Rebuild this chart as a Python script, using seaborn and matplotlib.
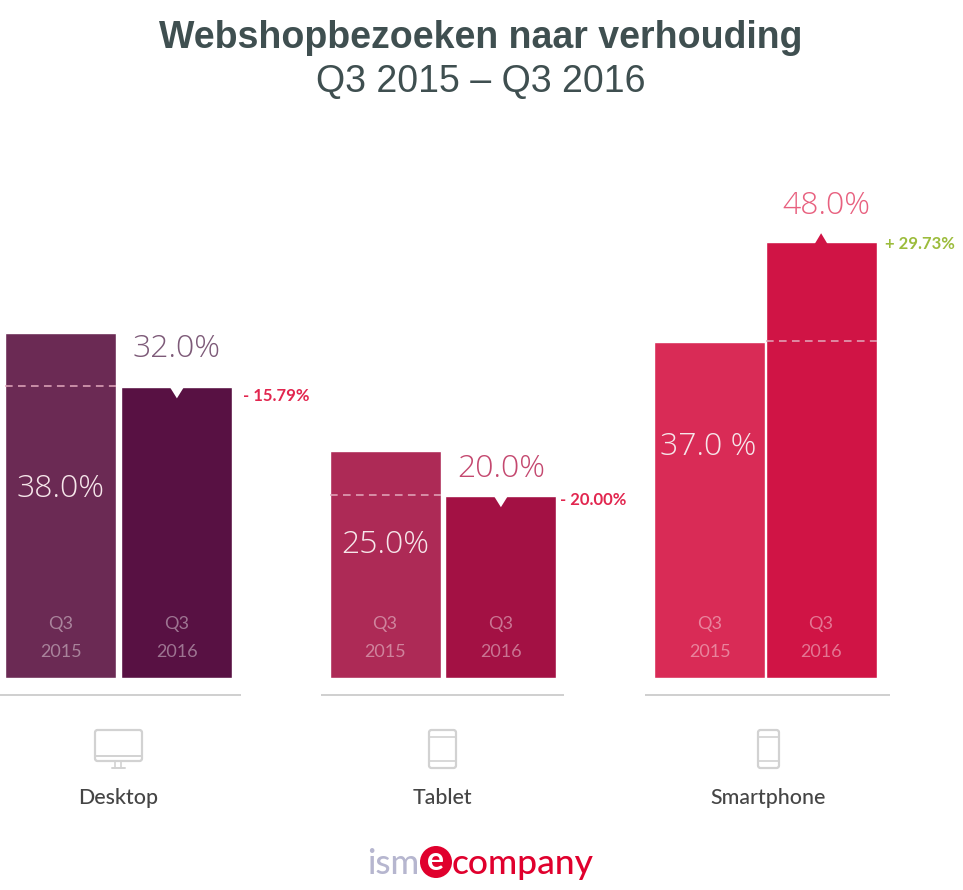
import matplotlib
matplotlib.use("Agg")
import matplotlib.pyplot as plt
from matplotlib.patches import FancyBboxPatch, Circle, Polygon
import pandas as pd
import seaborn as sns

# ---- data ----
periods = ["Q3 2015", "Q3 2016"]
categories = ["Desktop", "Tablet", "Smartphone"]
values_2015 = [38.0, 25.0, 37.0]
values_2016 = [32.0, 20.0, 48.0]
inner_labels = ["38.0%", "25.0%", "37.0 %"]
outer_labels = ["32.0%", "20.0%", "48.0%"]
change_labels = ["- 15.79%", "- 20.00%", "+ 29.73%"]

# ---- styles / layout (pixels of the 963x890 canvas) ----
W, H = 963, 890
BASE_Y = 677.6
PX_PER_UNIT = 9.07
YMAX = 50
colors_2015 = ["#6b2a54", "#ad2a56", "#d92b56"]
colors_2016 = ["#581143", "#a31144", "#d01445"]
outer_colors = ["#7d5a78", "#c4486f", "#e8607f"]
change_colors = ["#e2264f", "#e2264f", "#9cbc3c"]
bar_lefts = [(5.4, 121.4), (329.6, 445.4), (654.4, 765.6)]
bar_width = 111
rule_spans = [(0, 241), (321, 564), (645, 890)]
inner_y = [489, 545, 447]
inner_x_off = [0, 0, -2]
outer_y = [349, 469, 206]
outer_x_off = [0, 0, 5]
change_x = [243, 560, 885]
change_y = [396, 500, 244]
cat_x = [118, 442, 768]
PCT_FONT = ["Open Sans", "DejaVu Sans"]

sns.set_theme(style="white")
plt.rcParams["font.family"] = ["Lato", "DejaVu Sans"]

fig = plt.figure(figsize=(W / 100, H / 100), dpi=100, facecolor="white")


def group_axes(left0, left1):
    c0, c1 = left0 + bar_width / 2, left1 + bar_width / 2
    s = c1 - c0
    l, r = c0 - s / 2, c1 + s / 2
    top = BASE_Y - YMAX * PX_PER_UNIT
    ax = fig.add_axes([l / W, 1 - BASE_Y / H, (r - l) / W, (BASE_Y - top) / H])
    return ax, s


for i, cat in enumerate(categories):
    ax, spacing = group_axes(*bar_lefts[i])
    df = pd.DataFrame({"period": periods, "value": [values_2015[i], values_2016[i]]})
    sns.barplot(data=df, x="period", y="value", hue="period", order=periods, hue_order=periods,
                palette=[colors_2015[i], colors_2016[i]], width=bar_width / spacing,
                saturation=1, legend=False, ax=ax)
    ax.set_xlim(-0.5, 1.5)
    ax.set_ylim(0, YMAX)
    ax.axis("off")

    v0, v1 = values_2015[i], values_2016[i]
    half = bar_width / spacing / 2
    unit_x = 1 / spacing            # x data units per pixel
    unit_y = 1 / PX_PER_UNIT        # y data units per pixel

    # dashed reference line on the taller bar, at the level of the other one
    tall, level = (0, v1) if v0 > v1 else (1, v0)
    ax.plot([tall - half, tall + half], [level + 0.1, level + 0.1], color="#e3a9bd", lw=1.1,
            dashes=(5, 3.5), zorder=4)

    # marker on the 2016 bar: notch for a fall, peak for a rise
    if v1 < v0:
        ax.add_patch(Polygon([(1 - 8 * unit_x, v1 + 0.2), (1 + 8 * unit_x, v1 + 0.2), (1, v1 - 11 * unit_y)],
                             closed=True, fc="white", ec="none", zorder=5))
    else:
        ax.add_patch(Polygon([(1 - 7 * unit_x, v1 - 0.3), (1 + 7 * unit_x, v1 - 0.3), (1, v1 + 9 * unit_y)],
                             closed=True, fc=colors_2016[i], ec="none", zorder=5, clip_on=False))

    # period labels inside the bars
    for j, p in enumerate(periods):
        q, yr = p.split()
        for txt, yy in ((q, 624), (yr, 652)):
            ax.text(j, (BASE_Y - yy) / PX_PER_UNIT, txt, ha="center", va="center", fontsize=13,
                    color="white", alpha=0.42, zorder=6)

    # value labels
    ax.text(0 + inner_x_off[i] * unit_x, (BASE_Y - inner_y[i]) / PX_PER_UNIT, inner_labels[i],
            ha="center", va="center", fontsize=23, fontweight="light", family=PCT_FONT,
            color="#f6e6ea", zorder=6)
    ax.text(1 + outer_x_off[i] * unit_x, (BASE_Y - outer_y[i]) / PX_PER_UNIT, outer_labels[i],
            ha="center", va="center", fontsize=23, fontweight="light", family=PCT_FONT,
            color=outer_colors[i], zorder=6, clip_on=False)

# ---- overlay in pixel coordinates for title, rules, icons and logo ----
ov = fig.add_axes([0, 0, 1, 1], facecolor="none")
ov.set_xlim(0, W)
ov.set_ylim(H, 0)
ov.axis("off")

TITLE_FONT = ["Liberation Sans", "DejaVu Sans"]
ov.text(481, 38, "Webshopbezoeken naar verhouding", ha="center", va="center", fontsize=27,
        fontweight="bold", color="#3f4f50", family=TITLE_FONT)
ov.text(481, 82, "Q3 2015 \u2013 Q3 2016", ha="center", va="center", fontsize=27,
        color="#3f4f50", family=TITLE_FONT)

for i, cat in enumerate(categories):
    ov.plot(rule_spans[i], [695, 695], color="#cccccc", lw=1.3, solid_capstyle="butt")
    ov.text(cat_x[i], 798, cat, ha="center", va="center", fontsize=15.4, fontweight="medium",
            color="#454545")
    ov.text(change_x[i], change_y[i], change_labels[i], ha="left", va="center", fontsize=12,
            fontweight="bold", color=change_colors[i])

ICON = "#d2d2d2"


def rbox(x0, y0, x1, y1, r=2.5):
    ov.add_patch(FancyBboxPatch((x0 + r, y0 + r), x1 - x0 - 2 * r, y1 - y0 - 2 * r,
                                boxstyle=f"round,pad={r}", fc="none", ec=ICON, lw=1.6))


# desktop icon
rbox(95, 730, 142, 761)
ov.plot([95, 142], [756, 756], color=ICON, lw=1.4)
ov.plot([115, 115], [762, 767], color=ICON, lw=1.2)
ov.plot([121, 121], [762, 767], color=ICON, lw=1.2)
ov.plot([112, 125], [768, 768], color=ICON, lw=1.4)
# tablet icon
rbox(429, 730, 456, 768)
ov.plot([429, 456], [737, 737], color=ICON, lw=1.2)
ov.plot([429, 456], [761, 761], color=ICON, lw=1.2)
# smartphone icon
rbox(758, 730, 779, 768)
ov.plot([758, 779], [737, 737], color=ICON, lw=1.2)
ov.plot([758, 779], [761, 761], color=ICON, lw=1.2)

# logo
ov.text(367, 864, "ism", ha="left", va="center", fontsize=25, color="#b6b6cf", fontweight="medium")
ov.add_patch(Circle((436, 862), 16, fc="#e0002d", ec="none"))
ov.text(436, 861, "e", ha="center", va="center", fontsize=23, color="white", fontweight="bold")
ov.text(452, 864, "company", ha="left", va="center", fontsize=25.5, color="#e0002d", fontweight="medium")

fig.savefig("out.png", dpi=100, facecolor="white")
